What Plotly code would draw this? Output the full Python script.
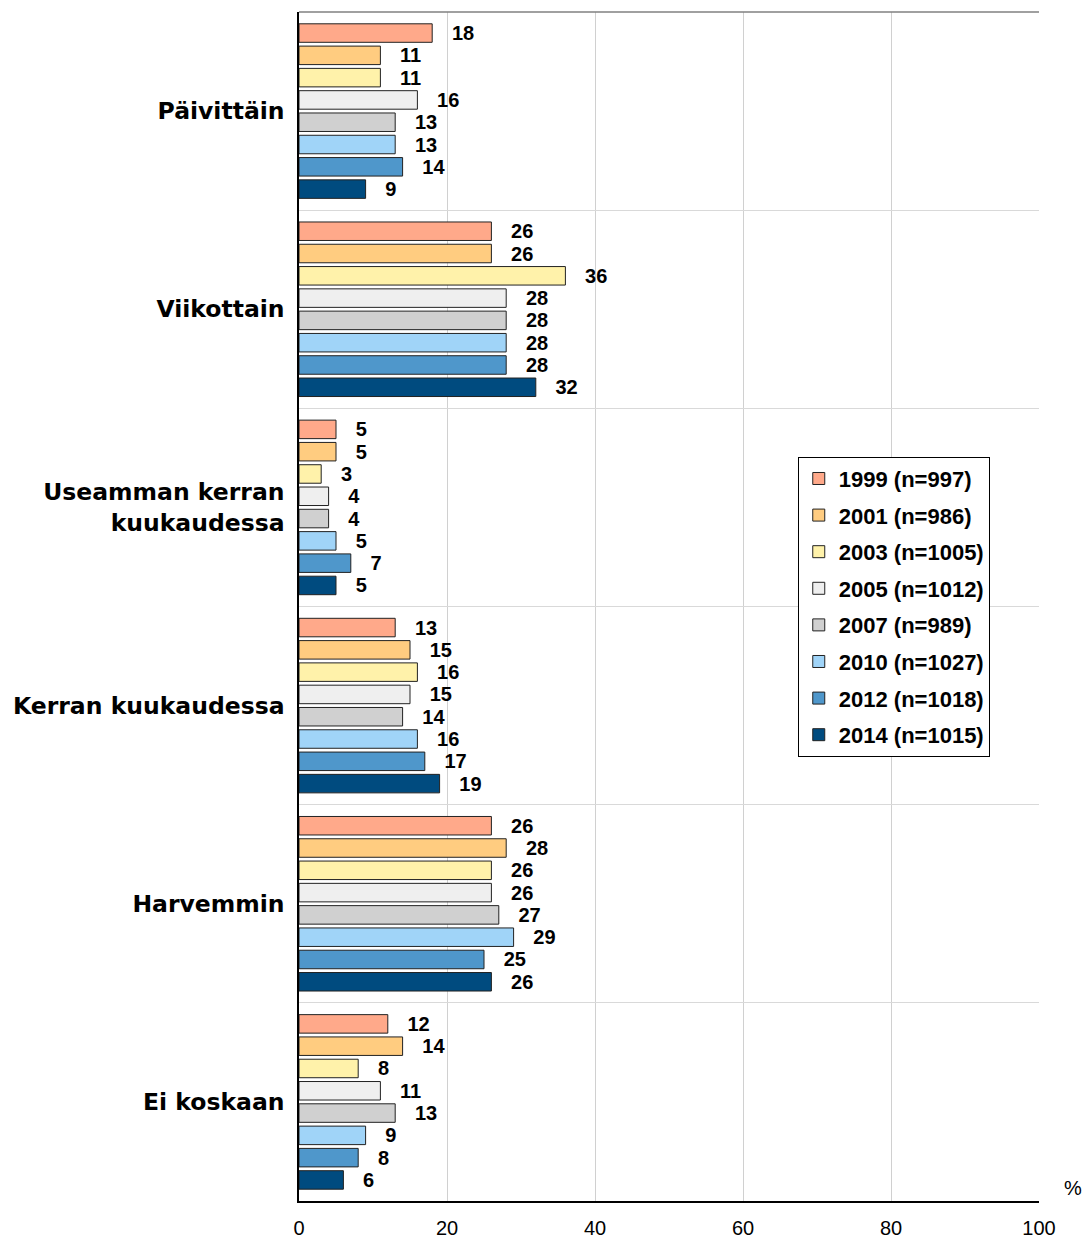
import plotly.graph_objects as go

categories = ["Päivittäin", "Viikottain", "Useamman kerran<br>kuukaudessa",
              "Kerran kuukaudessa", "Harvemmin", "Ei koskaan"]
series_names = ["1999 (n=997)", "2001 (n=986)", "2003 (n=1005)", "2005 (n=1012)",
                "2007 (n=989)", "2010 (n=1027)", "2012 (n=1018)", "2014 (n=1015)"]
values_1999 = [18, 26, 5, 13, 26, 12]
values_2001 = [11, 26, 5, 15, 28, 14]
values_2003 = [11, 36, 3, 16, 26, 8]
values_2005 = [16, 28, 4, 15, 26, 11]
values_2007 = [13, 28, 4, 14, 27, 13]
values_2010 = [13, 28, 5, 16, 29, 9]
values_2012 = [14, 28, 7, 17, 25, 8]
values_2014 = [9, 32, 5, 19, 26, 6]
all_values = [values_1999, values_2001, values_2003, values_2005,
              values_2007, values_2010, values_2012, values_2014]
colors = ["#FFA98A", "#FFCC80", "#FFF2AA", "#EFEFEF",
          "#D0D0D0", "#A0D4F8", "#4F97CB", "#004B7F"]
x_ticks = [0, 20, 40, 60, 80, 100]

fig = go.Figure()
for name, vals, col in zip(series_names, all_values, colors):
    fig.add_trace(go.Bar(
        y=categories, x=vals, name=name, orientation="h",
        marker=dict(color=col, line=dict(color="#222222", width=1)),
        text=["\u00a0\u00a0\u00a0" + str(v) for v in vals],
        textposition="outside", cliponaxis=False, constraintext="none",
        textfont=dict(family="Liberation Sans", size=20, color="black", weight="bold"),
        legendgroup=name,
    ))

fig.update_layout(
    width=1086, height=1240,
    margin=dict(l=299, r=47, t=12, b=39, autoexpand=False),
    paper_bgcolor="white", plot_bgcolor="white",
    barmode="group", bargap=0.1, bargroupgap=0.17,
    showlegend=True,
    legend=dict(x=0.674, y=0.626, xanchor="left", yanchor="top",
                bordercolor="black", borderwidth=1, bgcolor="white",
                font=dict(family="Liberation Sans", size=22, color="black", weight="bold"),
                tracegroupgap=5, traceorder="grouped"),
    xaxis=dict(range=[0, 100], tickvals=x_ticks, showgrid=True, gridcolor="#D0D0D0",
               showline=True, linecolor="black", linewidth=1.5, zeroline=False,
               ticks="", ticklabelstandoff=8, automargin=False,
               tickfont=dict(family="Liberation Sans Narrow, Liberation Sans", size=20, color="black")),
    yaxis=dict(autorange="reversed", showgrid=True, gridcolor="#D9D9D9", tickson="boundaries",
               showline=True, linecolor="black", linewidth=1.5, ticks="",
               ticklabelstandoff=8, automargin=False,
               tickfont=dict(family="DejaVu Sans", size=23.5, color="black", weight="bold")),
    font=dict(family="Liberation Sans", color="black"),
)
fig.add_shape(type="line", xref="paper", yref="paper", x0=0, x1=1, y0=1, y1=1,
              line=dict(color="#808080", width=1.5))
fig.add_annotation(text="%", xref="paper", yref="paper", x=1.046, y=0.0, xanchor="center",
                   yanchor="bottom", showarrow=False,
                   font=dict(family="Liberation Sans Narrow, Liberation Sans", size=20, color="black"))

fig.write_html("out.html", config={"displayModeBar": False},
               post_script="document.body.style.margin='0';document.body.style.overflow='hidden';")
